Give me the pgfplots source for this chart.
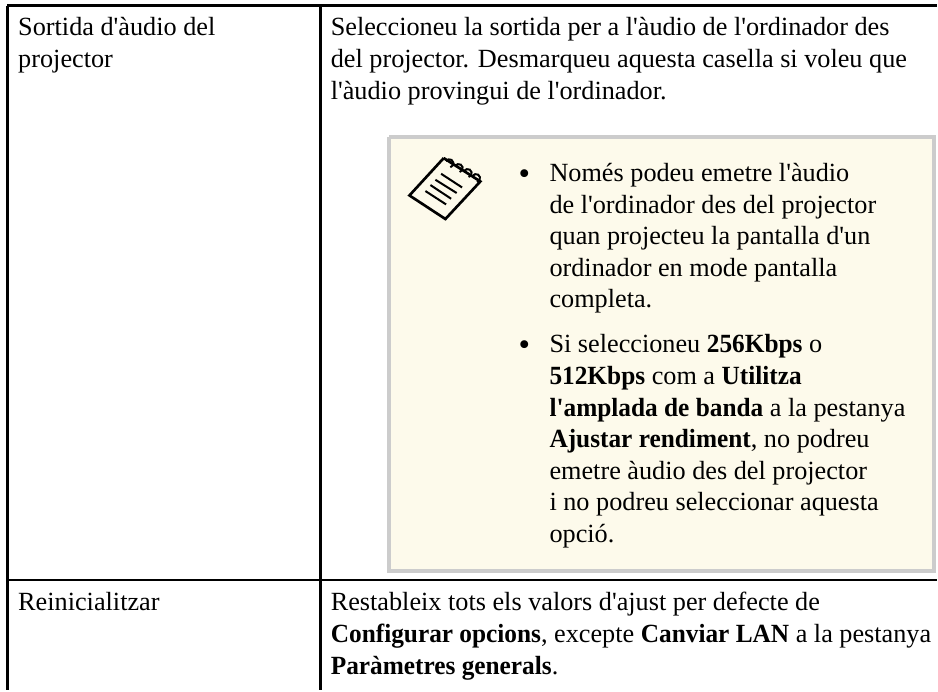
\documentclass[border=0pt]{standalone}
\usepackage{pgfplots}
\pgfplotsset{compat=1.18}
\usepackage{fontspec}
\setmainfont{Liberation Serif}[Ligatures=TeXOff,BoldFeatures={FakeStretch=0.965}]
\definecolor{cream}{HTML}{FDFAEB}
\definecolor{boxgray}{HTML}{CCCCCC}
\newcommand{\tl}[3]{\node[anchor=base west,inner sep=0pt,font=\fontsize{19.7pt}{19.7pt}\selectfont] at (axis cs:#1,#2) {#3};}
\begin{document}
\begin{tikzpicture}
\begin{axis}[hide axis,scale only axis,width=703.5pt,height=518.25pt,xmin=0,xmax=938,ymin=0,ymax=691,y dir=reverse,clip=false]
\path (axis cs:0,0) rectangle (axis cs:938,691);
\addplot[draw=none,fill=cream] coordinates {(390,137)(935,137)(935,572)(390,572)} --cycle;
\addplot[boxgray,line width=3pt] coordinates {(390,137)(935,137)(935,572)(390,572)(390,137)};
\addplot[black,line width=1.9pt] coordinates {(7.5,5.7)(938,5.7)};
\addplot[black,line width=1.9pt] coordinates {(7.5,5.7)(7.5,691)};
\addplot[black,line width=1.9pt] coordinates {(320.7,5.7)(320.7,691)};
\addplot[black,line width=1.9pt] coordinates {(7.5,580.7)(938,580.7)};
\tl{18}{36}{Sortida d'àudio del}
\tl{18}{68}{projector}
\tl{331}{36}{Seleccioneu la sortida per a l'àudio de l'ordinador des}
\tl{331}{68}{del projector. Desmarqueu aquesta casella si voleu que}
\tl{331}{100}{l'àudio provingui de l'ordinador.}
\tl{519}{185}{\scalebox{1.25}{•}}\tl{550}{182}{Només podeu emetre l'àudio}
\tl{550}{213.5}{de l'ordinador des del projector}
\tl{550}{245}{quan projecteu la pantalla d'un}
\tl{550}{276.7}{ordinador en mode pantalla}
\tl{550}{308}{completa.}
\tl{519}{356}{\scalebox{1.25}{•}}\tl{550}{353}{Si seleccioneu \textbf{256Kbps} o}
\tl{550}{385}{\textbf{512Kbps} com a \textbf{Utilitza}}
\tl{550}{417}{\textbf{l'amplada de banda} a la pestanya}
\tl{550}{448}{\textbf{Ajustar rendiment}, no podreu}
\tl{550}{480}{emetre àudio des del projector}
\tl{550}{511}{i no podreu seleccionar aquesta}
\tl{550}{543}{opció.}
\tl{18}{611.5}{Reinicialitzar}
\tl{331}{611.5}{Restableix tots els valors d'ajust per defecte de}
\tl{331}{643}{\textbf{Configurar opcions}, excepte \textbf{Canviar LAN} a la pestanya}
\tl{331}{675}{\textbf{Paràmetres generals}.}
% notepad icon
\addplot[black,line width=2pt] coordinates {(444.3,158.3)(481,181.7)(446,219.3)(410,195.7)(444.3,158.3)};
\addplot[black,line width=1.5pt] coordinates {(441.7,174)(462.7,187.7)};
\addplot[black,line width=1.5pt] coordinates {(436,180)(457.3,193.3)};
\addplot[black,line width=1.5pt] coordinates {(431,185.3)(451.7,199)};
\addplot[black,line width=1.5pt] coordinates {(426,191.3)(446.7,204.7)};
\addplot[black,line width=1.5pt,smooth] coordinates {(446.6,161.4)(449.1,159.6)(452.1,160.1)(453.9,162.6)(453.4,165.6)(450.9,167.4)};
\addplot[black,line width=1.5pt,smooth] coordinates {(455.9,166.2)(458.4,164.4)(461.4,164.9)(463.2,167.4)(462.7,170.4)(460.2,172.2)};
\addplot[black,line width=1.5pt,smooth] coordinates {(464.9,171.2)(467.4,169.4)(470.4,169.9)(472.2,172.4)(471.7,175.4)(469.2,177.2)};
\addplot[black,line width=1.5pt,smooth] coordinates {(473.3,176.2)(475.8,174.4)(478.8,174.9)(480.6,177.4)(480.1,180.4)(477.6,182.2)};
\end{axis}
\end{tikzpicture}
\end{document}
